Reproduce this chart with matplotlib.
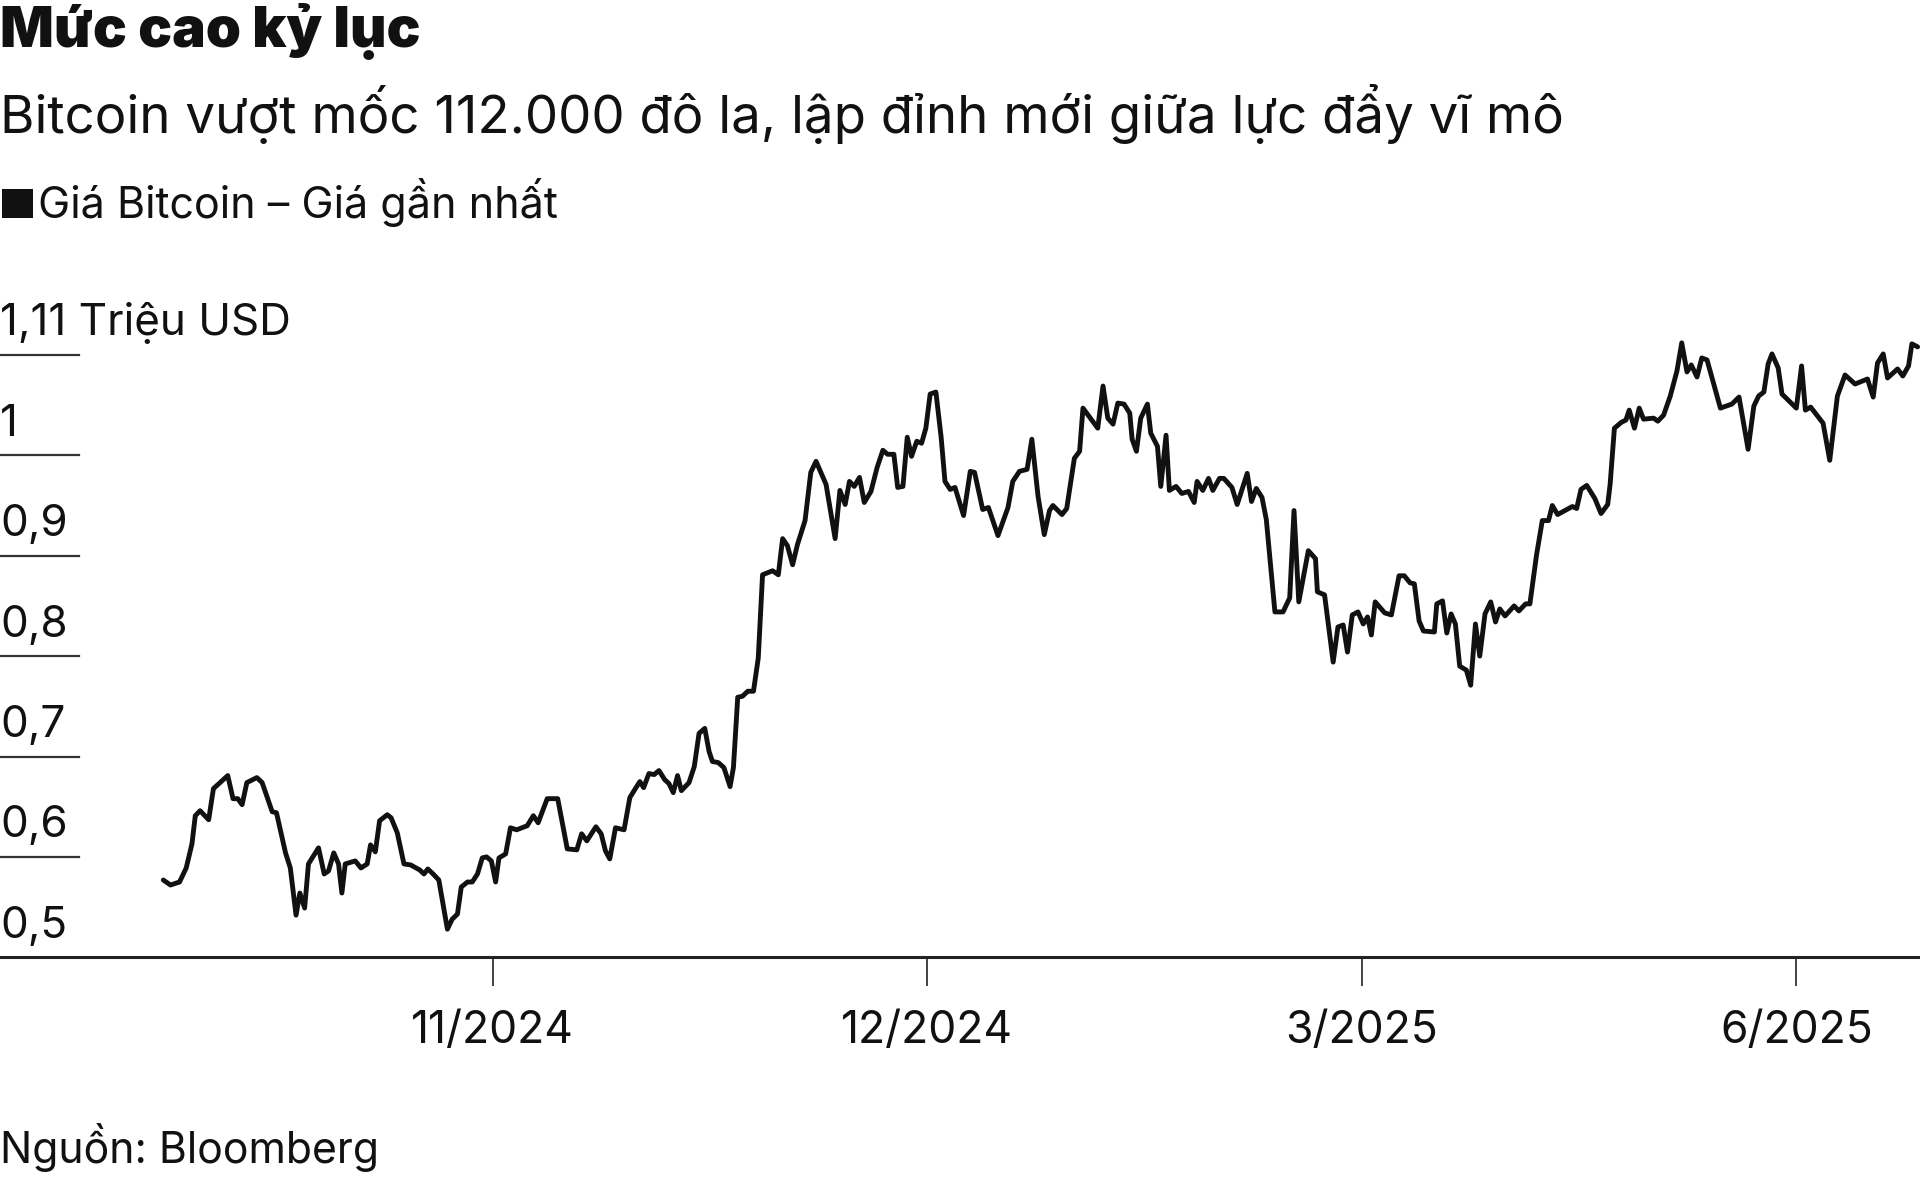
import numpy as np
import pandas as pd
import matplotlib
matplotlib.use('Agg')
import matplotlib.pyplot as plt
from matplotlib.patches import Rectangle

plt.rcParams['font.family'] = ['Inter', 'DejaVu Sans']

# days counted from 1/9/2024, price in million USD
days = [-69.0, -67.5, -65.6, -64.2, -63.0, -62.3, -61.3, -59.5, -58.5, -55.5,
        -54.4, -53.4, -52.5, -51.5, -49.4, -48.3, -46.2, -45.3, -43.4, -42.4,
        -41.2, -40.4, -39.4, -38.6, -36.5, -35.3, -34.4, -33.3, -32.3, -31.6,
        -30.9, -28.8, -27.6, -26.3, -25.6, -24.6, -23.7, -22.1, -21.3, -20.0,
        -18.6, -17.2, -15.3, -14.4, -13.6, -12.5, -11.3, -9.5, -8.5, -7.4,
        -6.6, -5.3, -4.3, -3.2, -2.2, -1.3, -0.3, 0.6, 1.3, 2.7,
        3.7, 5.0, 7.2, 8.5, 9.5, 11.4, 13.6, 15.6, 17.6, 18.6,
        19.7, 21.6, 22.7, 23.6, 24.5, 25.7, 27.5, 28.7, 29.6, 30.8,
        31.6, 32.7, 33.8, 34.8, 36.0, 36.9, 37.8, 38.7, 39.5, 41.1,
        42.2, 43.2, 44.4, 45.3, 46.0, 47.2, 48.4, 49.7, 50.4, 51.3,
        52.3, 53.4, 54.6, 55.6, 56.5, 58.6, 59.8, 60.7, 61.7, 62.8,
        63.8, 65.4, 66.6, 67.7, 69.8, 71.7, 72.7, 73.8, 74.7, 75.7,
        76.8, 77.8, 79.2, 80.5, 81.7, 82.7, 84.0, 84.8, 85.9, 86.8,
        87.7, 88.8, 89.8, 90.7, 91.6, 92.8, 93.9, 94.7, 95.8, 96.8,
        98.6, 100.0, 100.9, 102.6, 103.8, 105.8, 107.9, 108.9, 110.3, 111.9,
        112.9, 114.2, 115.5, 116.6, 117.3, 119.2, 120.2, 121.8, 122.9, 123.6,
        126.7, 127.8, 128.8, 129.9, 130.9, 132.2, 133.4, 133.9, 134.8, 135.7,
        137.1, 137.8, 139.2, 139.9, 141.0, 141.7, 143.1, 144.3, 145.7, 146.9,
        147.5, 148.7, 149.9, 150.8, 152.2, 153.1, 154.8, 155.9, 158.0, 158.9,
        159.9, 161.1, 162.0, 163.8, 165.5, 166.9, 167.8, 168.8, 170.8, 172.3,
        172.7, 174.2, 176.0, 177.0, 178.1, 179.0, 180.0, 181.2, 182.3, 183.2,
        184.0, 184.8, 186.8, 188.2, 189.8, 190.9, 192.1, 193.0, 194.0, 194.9,
        197.2, 197.7, 198.9, 199.8, 200.7, 201.6, 202.5, 203.9, 204.8, 205.8,
        206.7, 207.8, 209.0, 210.0, 210.9, 212.0, 213.9, 214.9, 216.3, 217.2,
        218.6, 219.8, 221.1, 221.9, 223.0, 226.1, 227.0, 227.9, 229.1, 230.8,
        232.1, 233.5, 234.0, 234.9, 236.4, 237.3, 238.0, 239.1, 240.1, 241.0,
        243.1, 244.0, 245.2, 246.6, 248.0, 249.0, 250.1, 251.0, 252.2, 253.2,
        254.3, 255.7, 257.1, 259.5, 261.0, 262.9, 264.1, 265.1, 266.2, 267.1,
        267.9, 269.2, 270.0, 273.0, 274.1, 274.9, 276.0, 278.6, 280.0, 281.6,
        283.2, 285.3, 287.9, 289.1, 290.0, 291.2, 292.1, 294.2, 295.3, 296.5,
        297.2, 298.4]
price = [0.577, 0.572, 0.575, 0.589, 0.613, 0.641, 0.646, 0.637, 0.668, 0.681,
         0.658, 0.658, 0.652, 0.674, 0.679, 0.674, 0.645, 0.644, 0.604, 0.589,
         0.542, 0.564, 0.549, 0.593, 0.609, 0.583, 0.586, 0.604, 0.593, 0.564,
         0.593, 0.596, 0.589, 0.593, 0.612, 0.605, 0.636, 0.642, 0.639, 0.624,
         0.593, 0.592, 0.587, 0.583, 0.588, 0.583, 0.577, 0.528, 0.538, 0.543,
         0.570, 0.575, 0.575, 0.583, 0.599, 0.600, 0.596, 0.575, 0.599, 0.603,
         0.629, 0.627, 0.631, 0.641, 0.634, 0.658, 0.658, 0.608, 0.607, 0.623,
         0.616, 0.630, 0.623, 0.606, 0.598, 0.629, 0.627, 0.659, 0.666, 0.675,
         0.669, 0.683, 0.682, 0.686, 0.677, 0.673, 0.664, 0.681, 0.666, 0.674,
         0.690, 0.723, 0.728, 0.705, 0.695, 0.694, 0.689, 0.670, 0.689, 0.759,
         0.760, 0.765, 0.765, 0.798, 0.881, 0.885, 0.881, 0.917, 0.910, 0.891,
         0.911, 0.935, 0.983, 0.994, 0.971, 0.917, 0.965, 0.951, 0.974, 0.969,
         0.978, 0.953, 0.964, 0.988, 1.005, 1.001, 1.001, 0.968, 0.969, 1.018,
         0.999, 1.014, 1.012, 1.027, 1.061, 1.063, 1.018, 0.974, 0.966, 0.968,
         0.940, 0.984, 0.983, 0.946, 0.948, 0.920, 0.948, 0.974, 0.984, 0.986,
         1.016, 0.959, 0.921, 0.945, 0.950, 0.941, 0.947, 0.997, 1.004, 1.047,
         1.027, 1.069, 1.037, 1.031, 1.052, 1.051, 1.042, 1.016, 1.004, 1.037,
         1.051, 1.022, 1.009, 0.969, 1.020, 0.965, 0.969, 0.962, 0.964, 0.953,
         0.974, 0.965, 0.977, 0.965, 0.977, 0.977, 0.968, 0.951, 0.982, 0.954,
         0.967, 0.958, 0.936, 0.844, 0.844, 0.858, 0.945, 0.854, 0.905, 0.897,
         0.864, 0.861, 0.794, 0.829, 0.831, 0.804, 0.841, 0.844, 0.832, 0.839,
         0.821, 0.854, 0.843, 0.841, 0.880, 0.880, 0.873, 0.872, 0.835, 0.825,
         0.824, 0.852, 0.855, 0.823, 0.842, 0.832, 0.790, 0.786, 0.771, 0.832,
         0.800, 0.842, 0.854, 0.834, 0.847, 0.840, 0.850, 0.845, 0.852, 0.852,
         0.901, 0.935, 0.935, 0.950, 0.941, 0.949, 0.947, 0.966, 0.970, 0.957,
         0.942, 0.951, 0.971, 1.027, 1.033, 1.035, 1.045, 1.027, 1.047, 1.036,
         1.037, 1.034, 1.040, 1.059, 1.084, 1.112, 1.083, 1.090, 1.078, 1.097,
         1.095, 1.071, 1.047, 1.051, 1.058, 1.006, 1.049, 1.059, 1.063, 1.091,
         1.101, 1.087, 1.061, 1.047, 1.089, 1.045, 1.048, 1.032, 0.995, 1.059,
         1.080, 1.071, 1.076, 1.058, 1.092, 1.101, 1.077, 1.086, 1.079, 1.089,
         1.111, 1.108]

ytick_vals = [0.5, 0.6, 0.7, 0.8, 0.9, 1.0, 1.1]
ytick_labels = ['0,5', '0,6', '0,7', '0,8', '0,9', '1', '1,11 Triệu USD']
xtick_dates = ['2024-09-01', '2024-12-01', '2025-03-02', '2025-06-01']
xtick_labels = ['11/2024', '12/2024', '3/2025', '6/2025']

W, H = 1920, 1177
ink = '#111111'

start = pd.Timestamp('2024-09-01')
dates = start + pd.to_timedelta(days, unit='D')

fig = plt.figure(figsize=(W / 100, H / 100), dpi=100)
ax = fig.add_axes([0, (H - 957.3) / H, 1, 0.63 * 1004 / H])
ax.plot(dates, price, color=ink, lw=3.5, solid_joinstyle='round', solid_capstyle='round')
ax.set_ylim(0.5, 1.13)
ax.set_xlim(start - pd.Timedelta(days=103.2), start + pd.Timedelta(days=298.9))

for s in ['top', 'right', 'left']:
    ax.spines[s].set_visible(False)
ax.spines['bottom'].set_linewidth(2.2)
ax.spines['bottom'].set_color('#222222')
ax.set_yticks([])

for v, lab in zip(ytick_vals, ytick_labels):
    if v > 0.5:
        ax.axhline(v, xmin=0, xmax=79 / W, color='#333333', lw=1.6)
    ax.annotate(lab, xy=(0, v), xycoords=('axes fraction', 'data'),
                xytext=(0, 14), textcoords='offset points',
                ha='left', va='baseline', fontsize=31.7, color=ink)

ax.set_xticks(pd.to_datetime(xtick_dates))
ax.set_xticklabels(xtick_labels)
ax.tick_params(axis='x', length=21, width=1.2, color='#222222', pad=17,
               labelsize=32, labelcolor=ink, direction='out')

# header
fig.text(0, 1 - 46.7 / H, 'Mức cao kỷ lục', fontsize=40.6, fontweight='black',
         color=ink, ha='left', va='baseline')
fig.text(0, 1 - 132.7 / H, 'Bitcoin vượt mốc 112.000 đô la, lập đỉnh mới giữa lực đẩy vĩ mô',
         fontsize=38, color=ink, ha='left', va='baseline')
fig.patches.append(Rectangle((2 / W, 1 - 218 / H), 31 / W, 29 / H,
                             transform=fig.transFigure, color=ink, lw=0))
fig.text(38 / W, 1 - 218.3 / H, 'Giá Bitcoin – Giá gần nhất', fontsize=31,
         color=ink, ha='left', va='baseline')
fig.text(0, 1 - 1163 / H, 'Nguồn: Bloomberg', fontsize=30.8, color=ink,
         ha='left', va='baseline')

fig.savefig('out.png', dpi=100)
